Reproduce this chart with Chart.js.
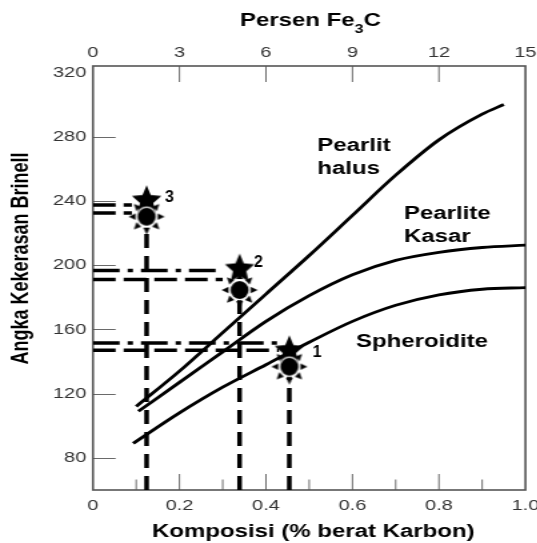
<!DOCTYPE html>
<html>
<head>
<meta charset="utf-8">
<script src="https://cdn.jsdelivr.net/npm/chart.js@4.4.1/dist/chart.umd.min.js"></script>
<style>
  html, body { margin: 0; padding: 0; overflow: hidden; background: #fff; }
  /* the original figure is stretched sideways, so draw narrow and widen it */
  #wrap { position: absolute; left: 0; top: 0; width: 425px; height: 543px;
          transform: scaleX(1.3333); transform-origin: 0 0; }
</style>
</head>
<body>
<div id="wrap"><canvas id="chart"></canvas></div>
<script>
// Curves: carbon (wt %) vs Brinell hardness
const carbonPH = [0.10, 0.2, 0.3, 0.4, 0.5, 0.6, 0.7, 0.8, 0.9, 0.95];
const hbPearlitHalus = [112, 134, 158, 182, 206, 231, 256, 278, 294, 300];
const carbonPK = [0.105, 0.2, 0.3, 0.4, 0.5, 0.6, 0.7, 0.8, 0.9, 1.0];
const hbPearliteKasar = [109, 127, 146, 165, 181, 194, 203, 208, 211, 212.5];
const carbonSP = [0.093, 0.2, 0.3, 0.4, 0.5, 0.6, 0.7, 0.8, 0.9, 1.0];
const hbSpheroidite = [89, 108, 124, 138, 152, 165, 175, 181.5, 185, 186];

// Marked samples 1, 2, 3
const pointNames = ['1', '2', '3'];
const pointCarbon = [0.454, 0.339, 0.124];
const starHB = [146.7, 197.6, 240.1];
const sunHB = [136.8, 184.5, 230.2];
const upperGuideHB = [151.5, 196.7, 237.5];
const lowerGuideHB = [147, 191, 232.5];
const guideEndC = [0.43, 0.30, 0.09];
const upperGuideStyle = ['dashdot', 'dashdot', 'dash'];

// Axes
const xTickValues = [0, 0.2, 0.4, 0.6, 0.8, 1.0];
const xTickLabels = ['0', '0.2', '0.4', '0.6', '0.8', '1.0'];
const xMinorTicks = [0.1, 0.3, 0.5, 0.7, 0.9];
const topTickValues = [0, 3, 6, 9, 12, 15];
const yTickValues = [80, 120, 160, 200, 240, 280, 320];
const yMin = 60, yMax = 324;

const SX = 0.75; // undo the sideways stretch for markers and numbers
const FONT = "'Liberation Sans', Arial, sans-serif";

const curveLabels = [
    { lines: ['Pearlit', 'halus'], c: 0.519, hb: 271.1 },
    { lines: ['Pearlite', 'Kasar'], c: 0.719, hb: 228.6 },
    { lines: ['Spheroidite'], c: 0.608, hb: 149.2 }
];
const numberPos = [
    { c: 0.508, hb: 143 },
    { c: 0.372, hb: 199 },
    { c: 0.1665, hb: 239.5 }
];

// Filled five point star
function makeStar(R, r) {
    const h = Math.ceil(2 * R) + 2, w = Math.ceil(2 * R * SX) + 2;
    const c = document.createElement('canvas');
    c.width = w; c.height = h;
    const g = c.getContext('2d');
    g.translate(w / 2, h / 2);
    g.scale(SX, 1);
    g.beginPath();
    for (let k = 0; k < 10; k++) {
        const a = -Math.PI / 2 + k * Math.PI / 5;
        const rr = k % 2 ? r : R;
        g.lineTo(rr * Math.cos(a), rr * Math.sin(a));
    }
    g.closePath();
    g.fillStyle = '#000';
    g.fill();
    return c;
}

// Black disc with little triangular rays
function makeSun(r, rayIn, rayOut, half) {
    const h = Math.ceil(2 * rayOut) + 2, w = Math.ceil(2 * rayOut * SX) + 2;
    const c = document.createElement('canvas');
    c.width = w; c.height = h;
    const g = c.getContext('2d');
    g.translate(w / 2, h / 2);
    g.scale(SX, 1);
    g.fillStyle = '#000';
    for (let k = 0; k < 8; k++) {
        const a = k * Math.PI / 4;
        const ca = Math.cos(a), sa = Math.sin(a);
        g.beginPath();
        g.moveTo(rayOut * ca, rayOut * sa);
        g.lineTo(rayIn * ca - half * sa, rayIn * sa + half * ca);
        g.lineTo(rayIn * ca + half * sa, rayIn * sa - half * ca);
        g.closePath();
        g.fill();
    }
    g.beginPath();
    g.arc(0, 0, r + 1.3, 0, Math.PI * 2);
    g.fillStyle = '#fff';
    g.fill();
    g.beginPath();
    g.arc(0, 0, r, 0, Math.PI * 2);
    g.fillStyle = '#000';
    g.fill();
    return c;
}

const starImg = makeStar(15.5, 7);
const sunImg = makeSun(9, 11, 18, 3.3);

function curve(xs, ys) {
    return {
        data: xs.map((x, i) => ({ x: x, y: ys[i] })),
        showLine: true, borderColor: '#000', borderWidth: 2.8,
        pointRadius: 0, cubicInterpolationMode: 'monotone', order: 3
    };
}

function guide(points, dash) {
    return {
        data: points, showLine: true, borderColor: '#000', borderWidth: 3.5,
        borderDash: dash, pointRadius: 0, order: 2
    };
}

const datasets = [
    curve(carbonPH, hbPearlitHalus),
    curve(carbonPK, hbPearliteKasar),
    curve(carbonSP, hbSpheroidite)
];

pointCarbon.forEach((c, i) => {
    const upDash = upperGuideStyle[i] === 'dashdot' ? [20, 6, 4, 6] : [17, 6];
    datasets.push(guide([{ x: 0, y: upperGuideHB[i] }, { x: guideEndC[i], y: upperGuideHB[i] }], upDash));
    datasets.push(guide([{ x: 0, y: lowerGuideHB[i] }, { x: guideEndC[i], y: lowerGuideHB[i] }], [17, 6]));
    datasets.push(guide([{ x: c, y: yMin }, { x: c, y: sunHB[i] }], [14, 8]));
});

datasets.push({
    data: pointCarbon.map((c, i) => ({ x: c, y: starHB[i] })),
    pointStyle: starImg, pointRadius: 10, order: 1
});
datasets.push({
    data: pointCarbon.map((c, i) => ({ x: c, y: sunHB[i] })),
    pointStyle: sunImg, pointRadius: 10, order: 0
});
datasets.forEach(d => { d.xAxisID = 'x'; d.yAxisID = 'y'; });

// Frame, inside ticks and all free text
const decorPlugin = {
    id: 'decor',
    beforeDatasetsDraw(chart) {
        const { ctx, chartArea } = chart;
        const { left, right, top, bottom } = chartArea;
        const x = chart.scales.x, xt = chart.scales.xTop, y = chart.scales.y;
        ctx.save();
        ctx.strokeStyle = '#6a6a6a';
        ctx.lineWidth = 1;
        ctx.beginPath();
        yTickValues.forEach(v => {
            if (v >= 320) return;
            const py = Math.round(y.getPixelForValue(v)) + 0.5;
            ctx.moveTo(left, py); ctx.lineTo(left + 17, py);
        });
        xTickValues.slice(1, -1).forEach(v => {
            const px = x.getPixelForValue(v);
            ctx.moveTo(px, bottom); ctx.lineTo(px, bottom - 16);
        });
        xMinorTicks.forEach(v => {
            const px = x.getPixelForValue(v);
            ctx.moveTo(px, bottom); ctx.lineTo(px, bottom - 10.5);
        });
        topTickValues.slice(1, -1).forEach(v => {
            const px = xt.getPixelForValue(v);
            ctx.moveTo(px, top); ctx.lineTo(px, top + 16);
        });
        ctx.stroke();
        ctx.strokeStyle = '#555';
        ctx.lineWidth = 1.6;
        ctx.strokeRect(left, top, right - left, bottom - top);
        ctx.restore();
    },
    afterDraw(chart) {
        const { ctx, chartArea } = chart;
        const x = chart.scales.x, y = chart.scales.y;
        const cx = (chartArea.left + chartArea.right) / 2;
        ctx.save();
        ctx.fillStyle = '#000';
        ctx.textBaseline = 'alphabetic';

        // curve names
        ctx.font = 'bold 18px ' + FONT;
        ctx.textAlign = 'left';
        curveLabels.forEach(lab => {
            const px = x.getPixelForValue(lab.c), py = y.getPixelForValue(lab.hb);
            lab.lines.forEach((t, k) => ctx.fillText(t, px, py + k * 23));
        });

        // sample numbers
        ctx.font = 'bold 16px ' + FONT;
        pointNames.forEach((t, i) => {
            ctx.save();
            ctx.translate(x.getPixelForValue(numberPos[i].c), y.getPixelForValue(numberPos[i].hb));
            ctx.scale(SX, 1);
            ctx.fillText(t, 0, 0);
            ctx.restore();
        });

        // top title with subscript
        const big = 'bold 18px ' + FONT, small = 'bold 12px ' + FONT;
        ctx.font = big;
        const w1 = ctx.measureText('Persen Fe').width, w3 = ctx.measureText('C').width;
        ctx.font = small;
        const w2 = ctx.measureText('3').width;
        let sx = cx + 1 - (w1 + w2 + w3) / 2;
        ctx.font = big; ctx.fillText('Persen Fe', sx, 26); sx += w1;
        ctx.font = small; ctx.fillText('3', sx, 33); sx += w2;
        ctx.font = big; ctx.fillText('C', sx, 26);

        // bottom title
        ctx.font = 'bold 18px ' + FONT;
        ctx.textAlign = 'center';
        ctx.fillText('Komposisi (% berat Karbon)', cx + 3, 537);

        // left title
        ctx.translate(21, 258.5);
        ctx.rotate(-Math.PI / 2);
        ctx.fillText('Angka Kekerasan Brinell', 0, 0);
        ctx.restore();
    }
};

const tickFont = { family: FONT, size: 15 };

new Chart(document.getElementById('chart'), {
    type: 'scatter',
    data: { datasets: datasets },
    options: {
        responsive: true,
        maintainAspectRatio: false,
        animation: false,
        events: [],
        layout: { padding: { left: 0, right: 425 - 394.1, top: 0, bottom: 0 } },
        plugins: { legend: { display: false }, tooltip: { enabled: false } },
        scales: {
            x: {
                type: 'linear', position: 'bottom', min: 0, max: 1,
                grid: { display: false, drawTicks: false }, border: { display: false },
                afterBuildTicks: s => { s.ticks = xTickValues.map(v => ({ value: v })); },
                ticks: { font: tickFont, color: '#333', padding: 7, autoSkip: false, maxRotation: 0,
                         callback: (v, i) => xTickLabels[i] },
                afterFit: s => { s.height = 53; }
            },
            xTop: {
                type: 'linear', position: 'top', min: 0, max: 15,
                grid: { display: false, drawTicks: false }, border: { display: false },
                afterBuildTicks: s => { s.ticks = topTickValues.map(v => ({ value: v })); },
                ticks: { font: tickFont, color: '#333', padding: 4, autoSkip: false, maxRotation: 0 },
                afterFit: s => { s.height = 66; }
            },
            y: {
                type: 'linear', position: 'left', min: yMin, max: yMax,
                grid: { display: false, drawTicks: false }, border: { display: false },
                // the 320 label sits on the top edge of the frame in the figure
                afterBuildTicks: s => { s.ticks = yTickValues.map(v => ({ value: Math.min(v, s.max) })); },
                ticks: { font: tickFont, color: '#333', padding: 5, autoSkip: false,
                         callback: (v, i) => String(yTickValues[i]) },
                afterFit: s => { s.width = 69.75; }
            }
        }
    },
    plugins: [decorPlugin]
});
</script>
</body>
</html>
